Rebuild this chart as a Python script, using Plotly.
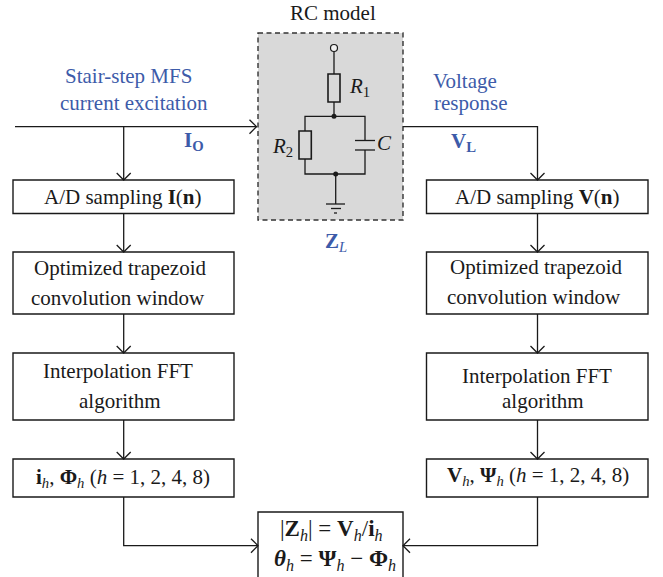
import plotly.graph_objects as go

WIDTH = 663
HEIGHT = 577
INK = "#1a1a1a"
BLUE = "#3d5ba9"
SERIF = "Liberation Serif"

# blue signal labels
blue_texts = [
    "Stair-step MFS",
    "current excitation",
    "Voltage",
    "response",
    "<b>I</b><sub><b>O</b></sub>",
    "<b>V</b><sub><b>L</b></sub>",
    "<b>Z</b><sub><i>L</i></sub>",
]
# black labels: circuit and flowchart boxes
dark_texts = [
    "RC model",
    "<i>R</i><sub>1</sub>",
    "<i>R</i><sub>2</sub>",
    "<i>C</i>",
    "A/D sampling <b>I</b>(<b>n</b>)",
    "Optimized trapezoid",
    "convolution window",
    "Interpolation FFT",
    "algorithm",
    "<b>i</b><sub><i>h</i></sub>, <b>Φ</b><sub><i>h</i></sub> (<i>h</i> = 1, 2, 4, 8)",
    "A/D sampling <b>V</b>(<b>n</b>)",
    "Optimized trapezoid",
    "convolution window",
    "Interpolation FFT",
    "algorithm",
    "<b>V</b><sub><i>h</i></sub>, <b>Ψ</b><sub><i>h</i></sub> (<i>h</i> = 1, 2, 4, 8)",
]
# the two result formulas at the bottom
formula_texts = [
    "|<b>Z</b><sub><i>h</i></sub>| = <b>V</b><sub><i>h</i></sub>/<b>i</b><sub><i>h</i></sub>",
    "<b><i>θ</i></b><sub><i>h</i></sub> = <b>Ψ</b><sub><i>h</i></sub> − <b>Φ</b><sub><i>h</i></sub>",
]

# label centres, in the same order as the texts
blue_xy = [(128, 76), (134, 103), (465, 81), (470, 103), (194, 141), (463, 142), (336, 242)]
dark_xy = [
    (333, 13), (359, 87), (282, 147), (384, 143),
    (122.5, 197), (120.3, 268), (117.5, 298), (117.5, 371), (120, 400.7), (123, 478),
    (537, 197), (536.3, 267), (534, 297), (537, 375.7), (543, 400.7), (538, 476),
]
formula_xy = [(331, 530), (334.5, 560)]

# flowchart boxes: x0, y0, x1, y1 in picture pixels
boxes = [
    (13, 180, 234, 213.5),
    (13, 252, 234, 314),
    (13, 353, 234, 420),
    (13, 459, 234, 497),
    (426.5, 180, 648, 213.5),
    (426.5, 252, 648, 314),
    (426.5, 353, 648, 420),
    (426.5, 459, 648, 497),
    (258, 512, 403, 590),
]

# connectors ending in an open arrow head
arrows = [
    [(15, 126.7), (256.5, 126.7)],
    [(123.7, 126.7), (123.7, 180)],
    [(403, 126.7), (537.5, 126.7), (537.5, 180)],
    [(123.7, 213.5), (123.7, 252)],
    [(123.7, 314), (123.7, 353)],
    [(123.7, 420), (123.7, 459)],
    [(537.5, 213.5), (537.5, 252)],
    [(537.5, 314), (537.5, 353)],
    [(537.5, 420), (537.5, 459)],
    [(123.7, 497), (123.7, 545.7), (258, 545.7)],
    [(537.5, 497), (537.5, 545.7), (403, 545.7)],
]

# RC circuit wiring
wires = [
    [(334, 51.5), (334, 74)],
    [(334, 102), (334, 116.3)],
    [(305, 131), (305, 116.3), (365, 116.3), (365, 140.5)],
    [(305, 159), (305, 174), (365, 174), (365, 150)],
    [(335.7, 174), (335.7, 204)],
    [(355, 140.5), (375, 140.5)],
    [(355, 150), (375, 150)],
]
ground_bars = [
    [(326, 204), (345, 204)],
    [(331, 208.5), (341, 208.5)],
    [(334, 213), (337, 213)],
]
resistors = [(328, 74, 340, 102), (299, 131, 311.3, 159)]
junctions_x = [334, 335.7]
junctions_y = [116.3, 174]


def path_trace(points, width=1.3, color=INK):
    return go.Scatter(
        x=[p[0] for p in points],
        y=[p[1] for p in points],
        mode="lines",
        line=dict(color=color, width=width),
        hoverinfo="skip",
        showlegend=False,
    )


def head_points(start, end, size=7):
    # open chevron at the end of the last segment
    if start[0] == end[0]:
        sign = 1 if end[1] > start[1] else -1
        return [(end[0] - size, end[1] - sign * size), end, (end[0] + size, end[1] - sign * size)]
    sign = 1 if end[0] > start[0] else -1
    return [(end[0] - sign * size, end[1] - size), end, (end[0] - sign * size, end[1] + size)]


def add_labels(figure, texts, positions, color, size):
    for text, (x, y) in zip(texts, positions):
        figure.add_annotation(
            x=x, y=y, text=text, showarrow=False, xanchor="center", yanchor="middle",
            font=dict(family=SERIF, size=size, color=color),
        )


fig = go.Figure()

# grey RC model panel sits under everything
fig.add_shape(
    type="rect", x0=258, y0=33, x1=403, y1=220, layer="below",
    fillcolor="#d9d9d9", line=dict(color="#333333", width=1.4, dash="5px,3.5px"),
)
for x0, y0, x1, y1 in boxes:
    fig.add_shape(
        type="rect", x0=x0, y0=y0, x1=x1, y1=y1, layer="below",
        fillcolor="white", line=dict(color=INK, width=1.4),
    )

for points in arrows:
    fig.add_trace(path_trace(points))
    fig.add_trace(path_trace(head_points(points[-2], points[-1])))

for points in wires + ground_bars:
    fig.add_trace(path_trace(points, width=1.3))

for x0, y0, x1, y1 in resistors:
    fig.add_shape(
        type="rect", x0=x0, y0=y0, x1=x1, y1=y1, layer="below",
        fillcolor="#d9d9d9", line=dict(color=INK, width=1.6),
    )

fig.add_trace(go.Scatter(
    x=junctions_x, y=junctions_y, mode="markers",
    marker=dict(color=INK, size=5), hoverinfo="skip", showlegend=False,
))
fig.add_trace(go.Scatter(
    x=[334], y=[48], mode="markers",
    marker=dict(color="#f2f2f2", size=7, line=dict(color=INK, width=1.2)),
    hoverinfo="skip", showlegend=False,
))

add_labels(fig, blue_texts, blue_xy, BLUE, 21)
add_labels(fig, dark_texts, dark_xy, INK, 21)
add_labels(fig, formula_texts, formula_xy, INK, 23)

fig.update_layout(
    width=WIDTH,
    height=HEIGHT,
    margin=dict(l=0, r=0, t=0, b=0),
    paper_bgcolor="white",
    plot_bgcolor="white",
    showlegend=False,
    xaxis=dict(range=[0, WIDTH], visible=False, fixedrange=True),
    yaxis=dict(range=[HEIGHT, 0], visible=False, fixedrange=True),
)

# the page's default body margin would push the figure 8px off
fig.write_html(
    "out.html",
    config={"displayModeBar": False},
    post_script="document.body.style.margin='0';document.body.style.overflow='hidden';",
)
